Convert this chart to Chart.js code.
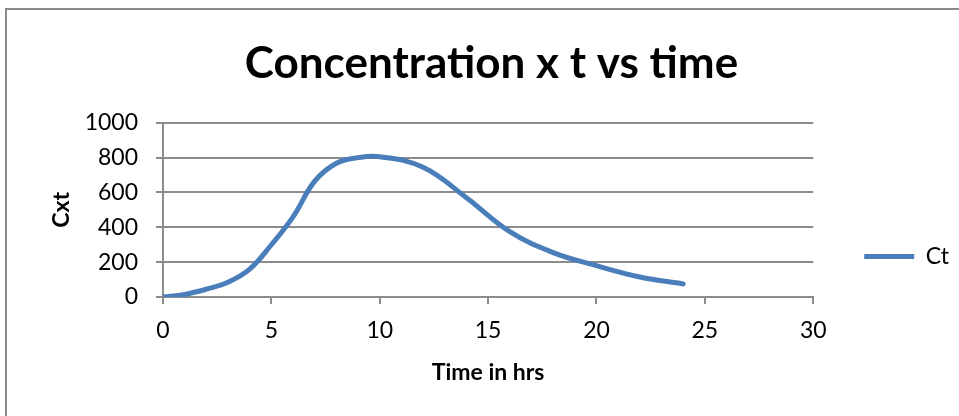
<!DOCTYPE html>
<html>
<head>
<meta charset="utf-8">
<script src="https://cdn.jsdelivr.net/npm/chart.js@4/dist/chart.umd.min.js"></script>
<style>
  html, body { margin: 0; padding: 0; background: #fff; overflow: hidden; }
  #wrap { position: relative; width: 959px; height: 416px; }
  #frame { position: absolute; left: 5px; top: 8px; width: 1000px; height: 500px; border: 2px solid #8a8a8a; box-sizing: border-box; }
  #chart { position: absolute; left: 0; top: 0; }
</style>
</head>
<body>
<div id="wrap">
  <div id="frame"></div>
  <canvas id="chart" width="959" height="416"></canvas>
</div>
<script>
// time (hrs) and C x t readings
const hours = [0, 1, 2, 3, 4, 5, 6, 7, 8, 9, 10, 12, 14, 16, 18, 20, 22, 24];
const ctValues = [0, 15, 45, 85, 160, 300, 460, 665, 768, 800, 805, 745, 570, 375, 255, 180, 115, 75];

const xRange = [0, 30];
const xStep = 5;
const yRange = [0, 1000];
const yStep = 200;

const gridColor = '#8c8c8c';
const lineBlue = '#4a7ebb';
const font = 'Lato, "Open Sans", sans-serif';

// nudge the title right (centred on the frame) and drop the legend
// down level with the tail of the curve
const placeBlocks = {
  id: 'placeBlocks',
  afterLayout(chart) {
    chart.titleBlock.left += 24;
    const lg = chart.legend;
    const h = lg.bottom - lg.top;
    lg.bottom = chart.chartArea.bottom + 22;
    lg.top = lg.bottom - h;
  }
};

new Chart(document.getElementById('chart'), {
  type: 'line',
  data: {
    datasets: [{
      label: 'Ct',
      data: hours.map((h, i) => ({ x: h, y: ctValues[i] })),
      borderColor: lineBlue,
      backgroundColor: lineBlue,
      borderWidth: 5,
      borderCapStyle: 'round',
      borderJoinStyle: 'round',
      tension: 0.4,
      pointRadius: 0,
      fill: false
    }]
  },
  options: {
    responsive: false,
    animation: false,
    layout: { padding: { left: 0, right: 0, top: 0, bottom: 0 } },
    plugins: {
      title: {
        display: true,
        text: 'Concentration x t vs time',
        color: '#000',
        font: { family: font, size: 44, weight: 'bold' },
        padding: { top: 37, bottom: 33 }
      },
      legend: {
        position: 'right',
        align: 'end',
        labels: {
          usePointStyle: true,
          pointStyle: 'line',
          pointStyleWidth: 50,
          padding: 51,
          color: '#000',
          font: { family: font, size: 23 }
        }
      },
      tooltip: { enabled: false }
    },
    scales: {
      x: {
        type: 'linear',
        min: xRange[0],
        max: xRange[1],
        ticks: { stepSize: xStep, padding: 13, color: '#000', font: { family: font, size: 23 } },
        grid: { drawOnChartArea: false, drawTicks: true, tickLength: 7, color: gridColor, lineWidth: 2 },
        border: { display: true, color: gridColor, width: 2 },
        title: {
          display: true,
          text: 'Time in hrs',
          color: '#000',
          font: { family: font, size: 23, weight: 'bold' },
          padding: { top: 0, bottom: 30 }
        },
        afterFit(scale) { scale.height = 119; }
      },
      y: {
        min: yRange[0],
        max: yRange[1],
        ticks: {
          stepSize: yStep,
          padding: 18,
          color: '#000',
          font: { family: font, size: 23 },
          callback: (v) => String(v)
        },
        grid: { color: gridColor, lineWidth: 2, tickLength: 7 },
        border: { display: true, color: gridColor, width: 2 },
        title: {
          display: true,
          text: 'Cxt',
          color: '#000',
          font: { family: font, size: 23, weight: 'bold' },
          padding: { top: 48, bottom: 0 }
        },
        afterFit(scale) { scale.width = 163; }
      }
    }
  },
  plugins: [placeBlocks]
});
</script>
</body>
</html>
